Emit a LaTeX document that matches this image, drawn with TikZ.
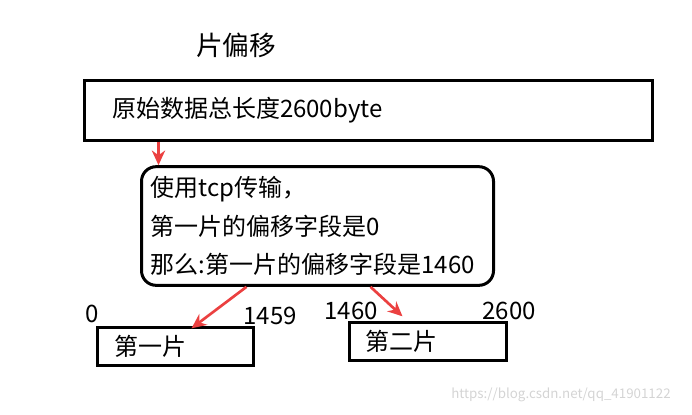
\documentclass[tikz,border=0pt]{standalone}
\usepackage{fontspec}
\setmainfont{Noto Sans CJK SC}
\usetikzlibrary{arrows.meta,calc}
\definecolor{arrowred}{RGB}{235,64,64}
\definecolor{markgray}{RGB}{212,212,212}
\tikzset{
  box/.style={draw,line width=2.25pt,inner ysep=0pt,align=left,font=\fontsize{18pt}{29pt}\selectfont},
  num/.style={font=\fontsize{18pt}{22pt}\selectfont,inner sep=0pt},
  redarrow/.style={arrowred,line width=2pt,-{Stealth[length=11pt,width=10pt]}}
}
\begin{document}
\begin{tikzpicture}[x=0.75pt,y=-0.75pt]
\useasboundingbox (0,0) rectangle (692,414);
\node[font=\fontsize{20pt}{24pt}\selectfont] (title) at (236,45) {片偏移};

\node[box,minimum height=45pt,inner xsep=21pt,text width=384pt] (total) at (368,110) {原始数据总长度2600byte};
\node[box,rounded corners=11pt,minimum height=89pt,inner xsep=7pt,text width=250pt] (tcp) at (317.5,226)
  {使用tcp传输，\\第一片的偏移字段是0\\那么:第一片的偏移字段是1460};

\node[box,minimum height=28pt,inner xsep=13pt,text width=91pt] (seg1) at (175,346.5) {第一片};
\node[box,minimum height=28pt,inner xsep=12pt,text width=93.75pt] (seg2) at (427.5,341.5) {第二片};

% byte offsets
\node[num] (n0) at (92,314) {0};
\node[num] (n1459) at (270,316) {1459};
\node[num] (n1460) at (351,311) {1460};
\node[num] (n2600) at (509,311) {2600};

% arrows
\coordinate (a0) at ($(total.south west)+(76,0)$);
\draw[redarrow] (a0) -- (a0 |- tcp.north);
\draw[redarrow] ($(tcp.south west)+(106.5,0)$) -- ($(seg1.north west)+(96,2)$);
\draw[redarrow] ($(tcp.south west)+(230.5,0)$) -- ($(seg2.north west)+(55,-5)$);

\node[markgray,font=\fontsize{10pt}{12pt}\selectfont] (mark) at (561,395) {https://blog.csdn.net/qq\_41901122};
\end{tikzpicture}
\end{document}
